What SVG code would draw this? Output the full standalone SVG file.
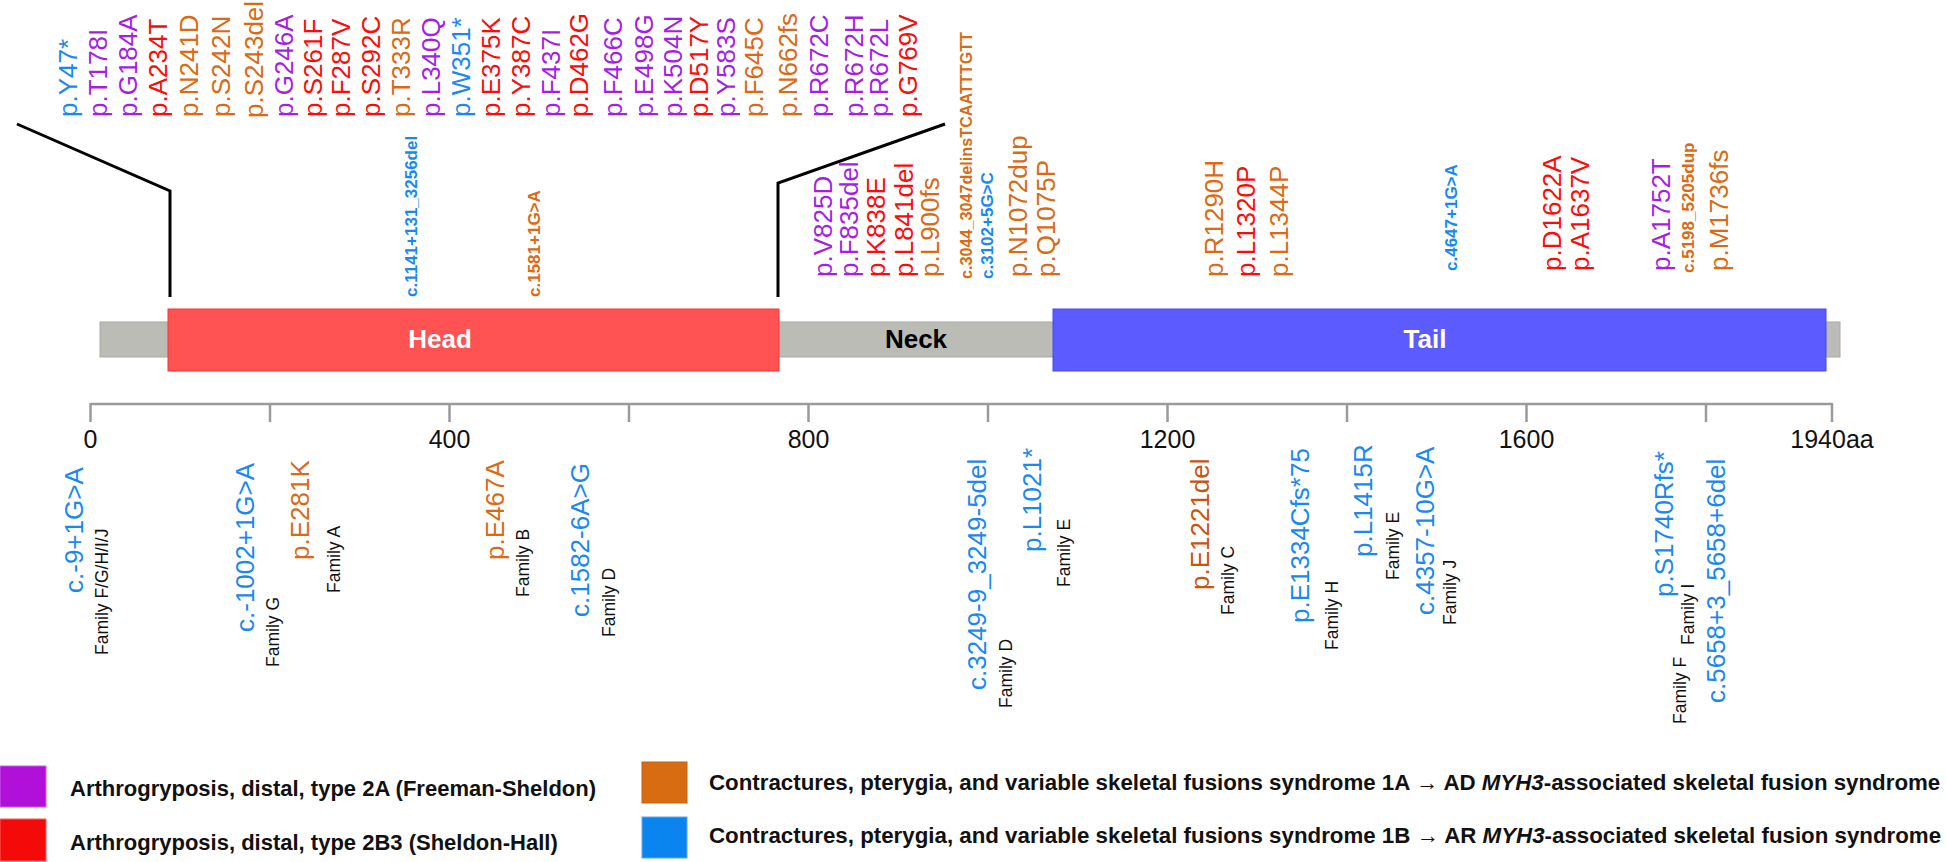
<svg xmlns="http://www.w3.org/2000/svg" width="1947" height="862" viewBox="0 0 1947 862">
<style>
text{font-family:"Liberation Sans",Arial,sans-serif}
.lab{font-size:26px}
.sm{font-size:17px;font-weight:bold}
.fam{font-size:17.5px;fill:#111}
.pu{fill:#a51ee6}
.rd{fill:#ff0a0a}
.or{fill:#da6a14}
.br{fill:#c8540f}
.bl{fill:#1a88f2}
.dom{font-size:26px;font-weight:bold;text-anchor:middle}
.tick{stroke:#9a9a9a;stroke-width:2.5;fill:none}
.tl{font-size:25px;fill:#111;text-anchor:middle}
.call{stroke:#000;stroke-width:3;fill:none}
.leg{font-size:22px;font-weight:bold;fill:#111}
.legr{font-size:22.3px;font-weight:bold;fill:#111}
</style>
<rect width="1947" height="862" fill="#fff"/>

<g id="protein">
  <g id="backbone"><rect x="100" y="322" width="1740" height="35" fill="#babcb5" stroke="#a8aaa3" stroke-width="1"/></g>
  <g id="head"><rect x="168" y="309" width="611" height="62" fill="#ff5252" stroke="#ff3333" stroke-width="1"/><text class="dom" x="440" y="348" fill="#fff">Head</text></g>
  <g id="neck"><text class="dom" x="916" y="348" fill="#000">Neck</text></g>
  <g id="tail"><rect x="1053" y="309" width="773" height="62" fill="#5b5bff" stroke="#4646ff" stroke-width="1"/><text class="dom" x="1425" y="348" fill="#fff">Tail</text></g>
</g>

<g id="connectors">
  <polyline class="call" points="17,124 170,191 170,297"/>
  <polyline class="call" points="945,124 778,183 778,297"/>
</g>

<g id="axis">
  <path class="tick" d="M90.5,404H1832M90.5,403V422M270,403V422M449.5,403V422M629,403V422M808.5,403V422M988,403V422M1167.5,403V422M1347,403V422M1526.5,403V422M1706,403V422M1832,403V422"/>
  <text class="tl" x="90.5" y="448">0</text>
  <text class="tl" x="449.5" y="448">400</text>
  <text class="tl" x="808.5" y="448">800</text>
  <text class="tl" x="1167.5" y="448">1200</text>
  <text class="tl" x="1526.5" y="448">1600</text>
  <text class="tl" x="1832" y="448">1940aa</text>
</g>

<g id="mutations-top">
  <text class="lab bl" transform="translate(77,117) rotate(-90)">p.Y47*</text>
  <text class="lab pu" transform="translate(107,117) rotate(-90)">p.T178I</text>
  <text class="lab pu" transform="translate(137,117) rotate(-90)">p.G184A</text>
  <text class="lab rd" transform="translate(167,117) rotate(-90)">p.A234T</text>
  <text class="lab or" transform="translate(198,117) rotate(-90)">p.N241D</text>
  <text class="lab or" transform="translate(230,117) rotate(-90)">p.S242N</text>
  <text class="lab or" transform="translate(263,118) rotate(-90)">p.S243del</text>
  <text class="lab pu" transform="translate(293,117) rotate(-90)">p.G246A</text>
  <text class="lab rd" transform="translate(322,117) rotate(-90)">p.S261F</text>
  <text class="lab rd" transform="translate(350,117) rotate(-90)">p.F287V</text>
  <text class="lab rd" transform="translate(380,117) rotate(-90)">p.S292C</text>
  <text class="lab or" transform="translate(410,117) rotate(-90)">p.T333R</text>
  <text class="lab pu" transform="translate(440,117) rotate(-90)">p.L340Q</text>
  <text class="lab bl" transform="translate(470,117) rotate(-90)">p.W351*</text>
  <text class="lab rd" transform="translate(500,117) rotate(-90)">p.E375K</text>
  <text class="lab rd" transform="translate(530,117) rotate(-90)">p.Y387C</text>
  <text class="lab pu" transform="translate(560,117) rotate(-90)">p.F437I</text>
  <text class="lab rd" transform="translate(588,117) rotate(-90)">p.D462G</text>
  <text class="lab pu" transform="translate(622,117) rotate(-90)">p.F466C</text>
  <text class="lab pu" transform="translate(653,117) rotate(-90)">p.E498G</text>
  <text class="lab pu" transform="translate(682,117) rotate(-90)">p.K504N</text>
  <text class="lab rd" transform="translate(708,117) rotate(-90)">p.D517Y</text>
  <text class="lab pu" transform="translate(735,117) rotate(-90)">p.Y583S</text>
  <text class="lab or" transform="translate(763,117) rotate(-90)">p.F645C</text>
  <text class="lab or" transform="translate(797,117) rotate(-90)">p.N662fs</text>
  <text class="lab pu" transform="translate(828,117) rotate(-90)">p.R672C</text>
  <text class="lab pu" transform="translate(863,117) rotate(-90)">p.R672H</text>
  <text class="lab pu" transform="translate(888,117) rotate(-90)">p.R672L</text>
  <text class="lab rd" transform="translate(917,117) rotate(-90)">p.G769V</text>

  <text class="sm bl" transform="translate(417,297) rotate(-90)">c.1141+131_3256del</text>
  <text class="sm or" transform="translate(540,297) rotate(-90)">c.1581+1G&gt;A</text>

  <text class="lab pu" transform="translate(832,277) rotate(-90)">p.V825D</text>
  <text class="lab pu" transform="translate(858,277) rotate(-90)">p.F835del</text>
  <text class="lab rd" transform="translate(885,277) rotate(-90)">p.K838E</text>
  <text class="lab rd" transform="translate(913,277) rotate(-90)">p.L841del</text>
  <text class="lab or" transform="translate(939,277) rotate(-90)">p.L900fs</text>
  <text class="sm or" transform="translate(972,279) rotate(-90)" textLength="247" lengthAdjust="spacingAndGlyphs">c.3044_3047delinsTCAATTTGTT</text>
  <text class="sm bl" transform="translate(993,279) rotate(-90)">c.3102+5G&gt;C</text>
  <text class="lab or" transform="translate(1027,277) rotate(-90)">p.N1072dup</text>
  <text class="lab or" transform="translate(1055,277) rotate(-90)">p.Q1075P</text>
  <text class="lab or" transform="translate(1223,277) rotate(-90)">p.R1290H</text>
  <text class="lab rd" transform="translate(1255,277) rotate(-90)">p.L1320P</text>
  <text class="lab or" transform="translate(1288,277) rotate(-90)">p.L1344P</text>
  <text class="sm bl" transform="translate(1457,271) rotate(-90)">c.4647+1G&gt;A</text>
  <text class="lab rd" transform="translate(1561,271) rotate(-90)">p.D1622A</text>
  <text class="lab rd" transform="translate(1589,271) rotate(-90)">p.A1637V</text>
  <text class="lab pu" transform="translate(1670,271) rotate(-90)">p.A1752T</text>
  <text class="sm or" transform="translate(1694,273) rotate(-90)">c.5198_5205dup</text>
  <text class="lab or" transform="translate(1728,271) rotate(-90)">p.M1736fs</text>
</g>

<g id="mutations-bottom">
  <text class="lab bl" transform="translate(83,593) rotate(-90)">c.-9+1G&gt;A</text>
  <text class="fam" transform="translate(108,655) rotate(-90)">Family F/G/H/I/J</text>
  <text class="lab bl" transform="translate(254,632) rotate(-90)">c.-1002+1G&gt;A</text>
  <text class="fam" transform="translate(279,667) rotate(-90)">Family G</text>
  <text class="lab or" transform="translate(309,560) rotate(-90)">p.E281K</text>
  <text class="fam" transform="translate(340,593) rotate(-90)">Family A</text>
  <text class="lab or" transform="translate(504,560) rotate(-90)">p.E467A</text>
  <text class="fam" transform="translate(529,597) rotate(-90)">Family B</text>
  <text class="lab bl" transform="translate(589,617) rotate(-90)">c.1582-6A&gt;G</text>
  <text class="fam" transform="translate(615,637) rotate(-90)">Family D</text>
  <text class="lab bl" transform="translate(986,690) rotate(-90)">c.3249-9_3249-5del</text>
  <text class="fam" transform="translate(1012,708) rotate(-90)">Family D</text>
  <text class="lab bl" transform="translate(1041,552) rotate(-90)">p.L1021*</text>
  <text class="fam" transform="translate(1070,587) rotate(-90)">Family E</text>
  <text class="lab br" transform="translate(1209,590) rotate(-90)">p.E1221del</text>
  <text class="fam" transform="translate(1234,615) rotate(-90)">Family C</text>
  <text class="lab bl" transform="translate(1309,623) rotate(-90)">p.E1334Cfs*75</text>
  <text class="fam" transform="translate(1338,650) rotate(-90)">Family H</text>
  <text class="lab bl" transform="translate(1372,557) rotate(-90)">p.L1415R</text>
  <text class="fam" transform="translate(1399,580) rotate(-90)">Family E</text>
  <text class="lab bl" transform="translate(1434,615) rotate(-90)">c.4357-10G&gt;A</text>
  <text class="fam" transform="translate(1456,625) rotate(-90)">Family J</text>
  <text class="lab bl" transform="translate(1673,597) rotate(-90)">p.S1740Rfs*</text>
  <text class="fam" transform="translate(1694,645) rotate(-90)">Family I</text>
  <text class="fam" transform="translate(1686,724) rotate(-90)">Family F</text>
  <text class="lab bl" transform="translate(1725,703) rotate(-90)">c.5658+3_5658+6del</text>
</g>

<g id="legend">
  <rect x="0" y="766" width="46" height="41" fill="#b010d8" stroke="#c860e8" stroke-width="1"/>
  <text class="leg" x="70" y="796">Arthrogryposis, distal, type 2A (Freeman-Sheldon)</text>
  <rect x="0" y="819" width="46" height="42" fill="#f50a0a" stroke="#f86060" stroke-width="1"/>
  <text class="leg" x="70" y="850">Arthrogryposis, distal, type 2B3 (Sheldon-Hall)</text>
  <rect x="642" y="762" width="45" height="41" fill="#d86c12" stroke="#c86010" stroke-width="1"/>
  <text class="legr" x="709" y="790">Contractures, pterygia, and variable skeletal fusions syndrome 1A → AD <tspan font-style="italic">MYH3</tspan>-associated skeletal fusion syndrome</text>
  <rect x="642" y="817" width="45" height="41" fill="#0a84ee" stroke="#60a8f0" stroke-width="1"/>
  <text class="legr" x="709" y="843">Contractures, pterygia, and variable skeletal fusions syndrome 1B → AR <tspan font-style="italic">MYH3</tspan>-associated skeletal fusion syndrome</text>
</g>
</svg>
